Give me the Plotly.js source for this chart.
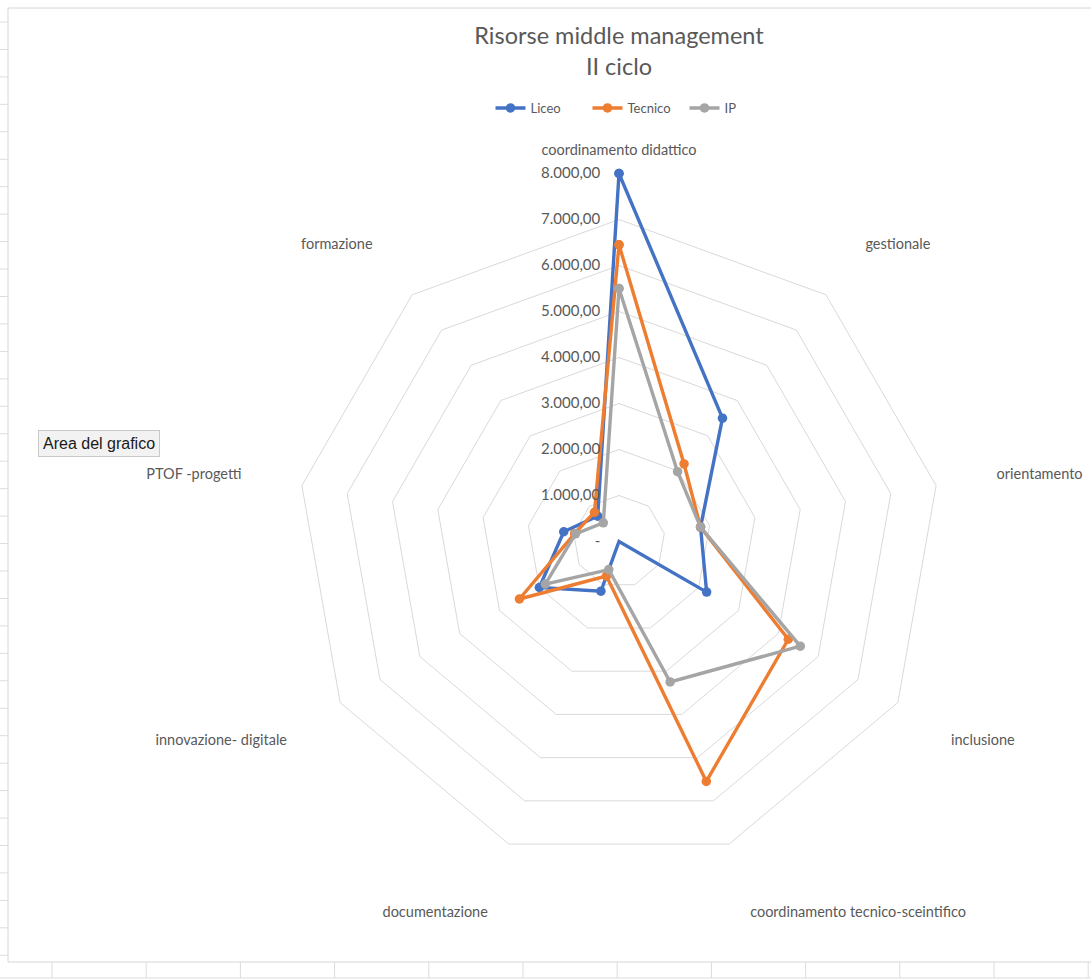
<!DOCTYPE html>
<html>
<head>
<meta charset="utf-8">
<script src="https://cdn.plot.ly/plotly-3.0.1.min.js"></script>
<style>
  html, body { margin: 0; padding: 0; background: #ffffff; }
  #chart { width: 1091px; height: 980px; }
</style>
</head>
<body>
<div id="chart"></div>
<script>
// Categorie (assi del radar, in senso orario dall'alto)
const categories = [
  'coordinamento didattico',
  'gestionale',
  'orientamento',
  'inclusione',
  'coordinamento tecnico-sceintifico',
  'documentazione',
  'innovazione- digitale',
  'PTOF -progetti',
  'formazione'
];

// Risorse per tipologia di istituto
const liceo   = [8000, 3500, 1800, 2200,    0, 1150, 2000, 1220, 720];
const tecnico = [6450, 2200, 1800, 4250, 5550,  800, 2500,  980, 830];
const ip      = [5500, 1980, 1800, 4550, 3250,  650, 1850,  960, 530];

// Etichette dell'asse radiale
const radialTickVals = [0, 1000, 2000, 3000, 4000, 5000, 6000, 7000, 8000];
const radialTickText = ['-', '1.000,00', '2.000,00', '3.000,00', '4.000,00',
                        '5.000,00', '6.000,00', '7.000,00', '8.000,00'];

const seriesNames  = ['Liceo', 'Tecnico', 'IP'];
const seriesValues = [liceo, tecnico, ip];
const seriesColors = ['#4472C4', '#ED7D31', '#A5A5A5'];

const FONT = 'Lato, "Open Sans", sans-serif';
const TEXT = '#595959';

const traces = seriesNames.map((name, i) => ({
  type: 'scatterpolar',
  mode: 'lines+markers',
  name: name,
  r: seriesValues[i].concat([seriesValues[i][0]]),
  theta: categories.concat([categories[0]]),
  line: { color: seriesColors[i], width: 3.4 },
  marker: { color: seriesColors[i], size: 9.5 },
  cliponaxis: false,
  hoverinfo: 'name+theta+r'
}));

// Cornice e griglia del foglio attorno all'area del grafico
const shapes = [];
const W = 1091, H = 980;
const px = x => x / W;
const py = y => 1 - y / H;
const frame = (x0, y0, x1, y1, c) => shapes.push({
  type: 'line', xref: 'paper', yref: 'paper',
  x0: px(x0), x1: px(x1), y0: py(y0), y1: py(y1),
  line: { color: c, width: 1 }
});
frame(8, 8, 1091, 8, '#d6d6d6');
frame(8, 8, 8, 962, '#d6d6d6');
frame(8, 962, 1091, 962, '#d6d6d6');
frame(0, 978, 1091, 978, '#dcdcdc');
for (let y = 22; y < 962; y += 27.45) frame(0, y, 8, y, '#dcdcdc');
for (let x = 52; x < 1091; x += 94.2) frame(x, 962, x, 978, '#dcdcdc');

const cx = 619, cy = 541.5, R = 368;

const layout = {
  width: W,
  height: H,
  margin: { l: 0, r: 0, t: 0, b: 0 },
  paper_bgcolor: '#ffffff',
  font: { family: FONT, color: TEXT },
  title: {
    text: 'Risorse middle management<br>II ciclo',
    font: { family: FONT, size: 23.5, color: TEXT },
    x: cx / W, xanchor: 'center', xref: 'paper',
    y: 1 - 44 / H, yanchor: 'top', yref: 'container'
  },
  showlegend: true,
  legend: {
    orientation: 'h',
    x: 636 / W, xanchor: 'center',
    y: 1 - 108 / H, yanchor: 'middle',
    font: { family: FONT, size: 13, color: TEXT },
    itemwidth: 30,
    entrywidth: 52,
    entrywidthmode: 'pixels',
    tracegroupgap: 0
  },
  polar: {
    domain: { x: [(cx - R) / W, (cx + R) / W], y: [(H - cy - R) / H, (H - cy + R) / H] },
    bgcolor: 'rgba(0,0,0,0)',
    gridshape: 'linear',
    angularaxis: {
      direction: 'clockwise',
      rotation: 90,
      showgrid: false,
      showline: false,
      ticks: 'outside',
      ticklen: 12,
      tickcolor: 'rgba(0,0,0,0)',
      tickfont: { family: FONT, size: 14.5, color: TEXT }
    },
    radialaxis: {
      range: [0, 8000],
      angle: 90,
      tickangle: 90,
      side: 'counterclockwise',
      tickvals: radialTickVals,
      ticktext: radialTickText,
      showline: false,
      showgrid: true,
      gridcolor: '#d9d9d9',
      gridwidth: 1,
      ticks: 'outside',
      ticklen: 13,
      tickcolor: 'rgba(0,0,0,0)',
      tickfont: { family: FONT, size: 15, color: TEXT }
    }
  },
  shapes: shapes,
  annotations: [{
    text: 'Area del grafico',
    xref: 'paper', yref: 'paper',
    x: px(98.5), y: py(443), xanchor: 'center', yanchor: 'middle',
    showarrow: false,
    font: { family: '"Liberation Sans", Arial, sans-serif', size: 16, color: '#1a1a1a' },
    bgcolor: '#f2f2f2',
    bordercolor: '#c9c9c9',
    borderwidth: 1,
    borderpad: 4
  }]
};

Plotly.newPlot('chart', traces, layout, { displayModeBar: false });
</script>
</body>
</html>
